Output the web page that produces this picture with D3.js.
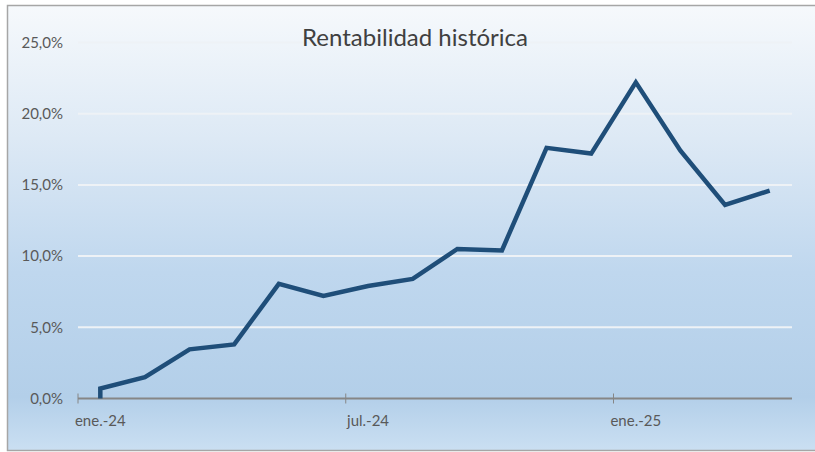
<!DOCTYPE html>
<html>
<head>
<meta charset="utf-8">
<script src="https://cdn.jsdelivr.net/npm/d3@7"></script>
<style>
  body { margin: 0; background: #fff; }
  svg { display: block; }
</style>
</head>
<body>
<svg id="chart" width="815" height="452"></svg>
<script>
// Monthly slots on the axis (Excel date axis, base unit = month)
const months = ["2024-01","2024-02","2024-03","2024-04","2024-05","2024-06","2024-07","2024-08",
                "2024-09","2024-10","2024-11","2024-12","2025-01","2025-02","2025-03","2025-04"];

// Series: month slot index + cumulative return (%). Starts at 0 in Jan-24.
const pointMonth = [0, 0, 1, 2, 3, 4, 5, 6, 7, 8, 9, 10, 11, 12, 13, 14, 15];
const pointValue = [0, 0.7, 1.5, 3.45, 3.8, 8.05, 7.2, 7.9, 8.4, 10.5, 10.4, 17.6, 17.2, 22.2, 17.4, 13.6, 14.6];

const yTicks = [0, 5, 10, 15, 20, 25];
const xTickMonths = [0, 6, 12];
const xTickLabels = ["ene.-24", "jul.-24", "ene.-25"];

const title = "Rentabilidad histórica";

const W = 815, H = 452;
const margin = { left: 78, right: 23, top: 42, bottom: 53 };
const font = "Lato, 'Open Sans', sans-serif";

const svg = d3.select("#chart");
const defs = svg.append("defs");

// background gradient of the chart area
const grad = defs.append("linearGradient")
  .attr("id", "bg").attr("x1", 0).attr("y1", 0).attr("x2", 0).attr("y2", 1);
grad.append("stop").attr("offset", "0%").attr("stop-color", "#f6f9fc");
grad.append("stop").attr("offset", "30%").attr("stop-color", "#dde9f5");
grad.append("stop").attr("offset", "60%").attr("stop-color", "#bfd7ee");
grad.append("stop").attr("offset", "88%").attr("stop-color", "#b3cfe9");
grad.append("stop").attr("offset", "100%").attr("stop-color", "#cadff2");

// frame
svg.append("rect")
  .attr("x", 7.5).attr("y", 5.5).attr("width", W).attr("height", 445)
  .attr("fill", "url(#bg)")
  .attr("stroke", "#a6a6a6")
  .attr("stroke-width", 1.5);

const x = d3.scaleLinear()
  .domain([0, months.length])
  .range([margin.left, W - margin.right]);

const y = d3.scaleLinear()
  .domain([0, 25])
  .range([H - margin.bottom - 0.5, margin.top + 0.5]);

// gridlines
svg.append("g")
  .selectAll("line")
  .data(yTicks.filter(d => d > 0))
  .join("line")
  .attr("x1", x(0)).attr("x2", x(months.length))
  .attr("y1", d => y(d)).attr("y2", d => y(d))
  .attr("stroke", "#eef2f6")
  .attr("stroke-width", 2);

// y labels
svg.append("g")
  .selectAll("text")
  .data(yTicks)
  .join("text")
  .attr("x", 63)
  .attr("y", d => y(d))
  .attr("dy", "0.35em")
  .attr("text-anchor", "end")
  .attr("font-family", font)
  .attr("font-size", "15px")
  .attr("fill", "#595959")
  .text(d => d3.format(".1f")(d).replace(".", ",") + "%");

// x axis line + ticks
svg.append("line")
  .attr("x1", x(0)).attr("x2", x(months.length))
  .attr("y1", y(0)).attr("y2", y(0))
  .attr("stroke", "#868686")
  .attr("stroke-width", 2);

svg.append("g")
  .selectAll("line")
  .data(xTickMonths)
  .join("line")
  .attr("x1", d => x(d)).attr("x2", d => x(d))
  .attr("y1", y(0) - 5).attr("y2", y(0) + 5)
  .attr("stroke", "#868686")
  .attr("stroke-width", 1);

svg.append("g")
  .selectAll("text")
  .data(xTickMonths)
  .join("text")
  .attr("x", d => x(d + 0.5))
  .attr("y", y(0) + 27)
  .attr("text-anchor", "middle")
  .attr("font-family", font)
  .attr("font-size", "15px")
  .attr("fill", "#595959")
  .text((d, i) => xTickLabels[i]);

// line
const line = d3.line()
  .x((d, i) => x(pointMonth[i] + 0.5))
  .y(d => y(d));

svg.append("path")
  .datum(pointValue)
  .attr("d", line)
  .attr("fill", "none")
  .attr("stroke", "#1f4e79")
  .attr("stroke-width", 4.5)
  .attr("stroke-linejoin", "miter")
  .attr("stroke-linecap", "butt");

// title
svg.append("text")
  .attr("x", 415)
  .attr("y", 46)
  .attr("text-anchor", "middle")
  .attr("font-family", font)
  .attr("font-size", "24px")
  .attr("fill", "#404040")
  .text(title);
</script>
</body>
</html>
